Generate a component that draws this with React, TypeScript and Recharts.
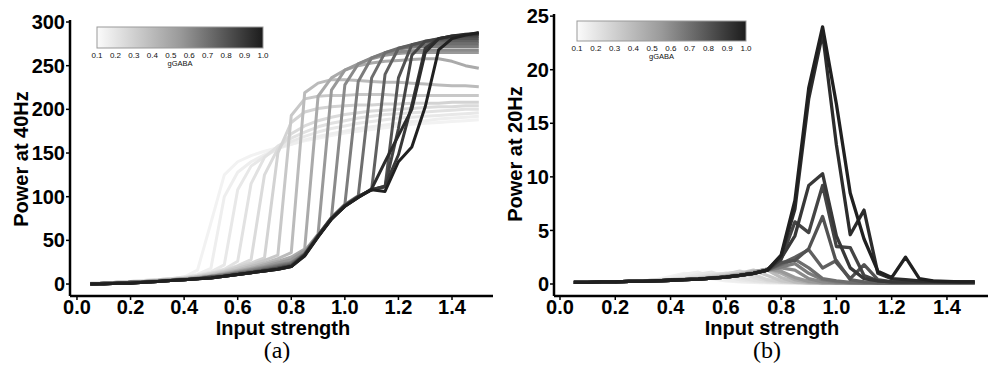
import { Line, LineChart, XAxis, YAxis } from "recharts"

// input strength, shared by both panels
const INPUT = [
  0.05, 0.1, 0.15, 0.2, 0.25, 0.3, 0.35, 0.4, 0.45, 0.5, 0.55, 0.6, 0.65, 0.7, 0.75,
  0.8, 0.85, 0.9, 0.95, 1.0, 1.05, 1.1, 1.15, 1.2, 1.25, 1.3, 1.35, 1.4, 1.45, 1.5,
]

const GABA = [
  "0.10", "0.15", "0.20", "0.25", "0.30", "0.35", "0.40", "0.45", "0.50", "0.55",
  "0.60", "0.65", "0.70", "0.75", "0.80", "0.85", "0.90", "0.95", "1.00",
]

const X_TICKS = [0, 0.2, 0.4, 0.6, 0.8, 1.0, 1.2, 1.4]
const Y_TICKS_40 = [0, 50, 100, 150, 200, 250, 300]
const Y_TICKS_20 = [0, 5, 10, 15, 20, 25]
const BAR_TICKS = ["0.1", "0.2", "0.3", "0.4", "0.5", "0.6", "0.7", "0.8", "0.9", "1.0"]

// (a) power at 40Hz, one array per gGABA
const P40_010 = [1, 1, 2, 3, 4, 5, 6, 8, 16, 70, 125, 140, 147, 152, 156, 160, 164, 167, 170, 173, 175, 177, 179, 181, 183, 184, 185, 186, 187, 188]
const P40_015 = [1, 1, 2, 3, 4, 5, 6, 8, 11, 18, 100, 128, 140, 148, 155, 160, 165, 169, 172, 175, 178, 180, 182, 184, 186, 187, 189, 190, 191, 192]
const P40_020 = [1, 1, 2, 3, 4, 5, 6, 8, 10, 14, 22, 108, 135, 146, 155, 163, 169, 174, 178, 181, 184, 186, 188, 190, 191, 192, 193, 194, 195, 196]
const P40_025 = [1, 1, 2, 3, 4, 5, 6, 7, 10, 13, 17, 26, 115, 145, 158, 167, 174, 180, 184, 187, 190, 192, 194, 195, 196, 197, 198, 199, 200, 200]
const P40_030 = [1, 1, 2, 2, 3, 5, 6, 7, 9, 12, 16, 21, 28, 125, 155, 172, 181, 187, 191, 194, 196, 198, 199, 200, 201, 202, 203, 203, 204, 204]
const P40_035 = [0, 1, 2, 2, 3, 4, 6, 7, 9, 12, 15, 20, 24, 30, 150, 185, 197, 201, 203, 204, 205, 205, 206, 206, 207, 207, 207, 208, 208, 208]
const P40_040 = [0, 1, 2, 2, 3, 4, 5, 6, 8, 11, 14, 18, 22, 27, 33, 193, 212, 215, 216, 216, 217, 217, 217, 216, 216, 216, 216, 216, 216, 216]
const P40_045 = [0, 1, 2, 2, 3, 4, 5, 6, 8, 10, 13, 16, 20, 24, 29, 36, 219, 230, 234, 234, 233, 232, 231, 231, 230, 229, 228, 227, 227, 226]
const P40_050 = [0, 1, 1, 2, 3, 4, 5, 6, 7, 9, 12, 15, 18, 22, 26, 31, 40, 215, 236, 245, 250, 253, 255, 256, 257, 258, 258, 255, 250, 247]
const P40_055 = [0, 1, 1, 2, 3, 4, 5, 6, 7, 9, 11, 14, 17, 20, 24, 28, 38, 57, 222, 245, 252, 258, 262, 264, 265, 265, 265, 265, 265, 265]
const P40_060 = [0, 1, 1, 2, 2, 3, 4, 5, 7, 9, 11, 13, 16, 19, 22, 25, 35, 56, 76, 228, 252, 259, 264, 266, 267, 268, 268, 268, 268, 268]
const P40_065 = [0, 1, 1, 2, 2, 3, 4, 5, 6, 8, 10, 13, 15, 18, 21, 24, 35, 56, 76, 91, 232, 259, 265, 269, 271, 272, 272, 272, 272, 272]
const P40_070 = [0, 1, 1, 2, 2, 3, 4, 5, 6, 8, 10, 12, 14, 17, 20, 23, 34, 56, 76, 91, 101, 236, 265, 270, 273, 274, 275, 275, 275, 275]
const P40_075 = [0, 1, 1, 2, 2, 3, 4, 5, 6, 8, 9, 12, 14, 16, 19, 22, 34, 55, 75, 90, 100, 108, 240, 270, 274, 277, 278, 278, 278, 278]
const P40_080 = [0, 1, 1, 2, 2, 3, 4, 5, 6, 8, 9, 11, 13, 16, 18, 21, 34, 55, 75, 90, 100, 108, 111, 236, 274, 278, 280, 281, 281, 281]
const P40_085 = [0, 0, 1, 1, 2, 3, 4, 5, 6, 7, 9, 11, 13, 15, 18, 21, 33, 55, 75, 90, 100, 108, 112, 178, 262, 278, 281, 283, 284, 284]
const P40_090 = [0, 0, 1, 1, 2, 3, 4, 5, 6, 7, 9, 11, 13, 15, 17, 20, 33, 55, 75, 89, 100, 108, 112, 148, 205, 270, 281, 284, 285, 286]
const P40_095 = [0, 0, 1, 1, 2, 3, 4, 5, 6, 7, 9, 11, 13, 15, 17, 20, 33, 54, 75, 89, 99, 109, 140, 170, 200, 265, 281, 284, 286, 287]
const P40_100 = [0, 0, 1, 1, 2, 3, 4, 5, 6, 7, 9, 11, 13, 15, 17, 20, 32, 54, 74, 89, 99, 108, 106, 140, 157, 203, 268, 281, 285, 288]

// (b) power at 20Hz
const P20_010 = [0.15, 0.15, 0.2, 0.2, 0.25, 0.3, 0.4, 0.7, 1.0, 0.8, 0.5, 0.3, 0.2, 0.15, 0.1, 0.1, 0.1, 0.1, 0.1, 0.1, 0.1, 0.1, 0.1, 0.1, 0.1, 0.1, 0.1, 0.1, 0.1, 0.1]
const P20_015 = [0.15, 0.15, 0.2, 0.2, 0.25, 0.3, 0.35, 0.5, 0.9, 1.1, 0.7, 0.4, 0.25, 0.2, 0.15, 0.1, 0.1, 0.1, 0.1, 0.1, 0.1, 0.1, 0.1, 0.1, 0.1, 0.1, 0.1, 0.1, 0.1, 0.1]
const P20_020 = [0.15, 0.15, 0.2, 0.2, 0.25, 0.3, 0.35, 0.45, 0.6, 0.9, 1.1, 0.7, 0.4, 0.25, 0.2, 0.15, 0.1, 0.1, 0.1, 0.1, 0.1, 0.1, 0.1, 0.1, 0.1, 0.1, 0.1, 0.1, 0.1, 0.1]
const P20_025 = [0.15, 0.15, 0.2, 0.2, 0.25, 0.3, 0.35, 0.4, 0.5, 0.7, 0.9, 1.0, 0.6, 0.35, 0.2, 0.15, 0.1, 0.1, 0.1, 0.1, 0.1, 0.1, 0.1, 0.1, 0.1, 0.1, 0.1, 0.1, 0.1, 0.1]
const P20_030 = [0.15, 0.15, 0.2, 0.2, 0.25, 0.3, 0.35, 0.4, 0.5, 0.6, 0.8, 1.0, 1.1, 0.6, 0.3, 0.2, 0.15, 0.1, 0.1, 0.1, 0.1, 0.1, 0.1, 0.1, 0.1, 0.1, 0.1, 0.1, 0.1, 0.1]
const P20_035 = [0.15, 0.15, 0.2, 0.2, 0.25, 0.3, 0.35, 0.4, 0.45, 0.55, 0.7, 0.9, 1.2, 0.9, 0.4, 0.2, 0.15, 0.1, 0.1, 0.1, 0.1, 0.1, 0.1, 0.1, 0.1, 0.1, 0.1, 0.1, 0.1, 0.1]
const P20_040 = [0.15, 0.15, 0.2, 0.2, 0.25, 0.3, 0.35, 0.4, 0.45, 0.5, 0.65, 0.8, 1.0, 1.3, 0.8, 0.3, 0.15, 0.1, 0.1, 0.1, 0.1, 0.1, 0.1, 0.1, 0.1, 0.1, 0.1, 0.1, 0.1, 0.1]
const P20_045 = [0.15, 0.15, 0.2, 0.2, 0.25, 0.3, 0.3, 0.35, 0.45, 0.5, 0.6, 0.75, 0.95, 1.2, 1.3, 0.6, 0.2, 0.1, 0.1, 0.1, 0.1, 0.1, 0.1, 0.1, 0.1, 0.1, 0.1, 0.1, 0.1, 0.1]
const P20_050 = [0.15, 0.15, 0.2, 0.2, 0.25, 0.3, 0.3, 0.35, 0.4, 0.5, 0.6, 0.7, 0.9, 1.1, 1.4, 1.0, 0.4, 0.15, 0.1, 0.1, 0.1, 0.1, 0.1, 0.1, 0.1, 0.1, 0.1, 0.1, 0.1, 0.1]
const P20_055 = [0.15, 0.15, 0.2, 0.2, 0.25, 0.3, 0.3, 0.35, 0.4, 0.45, 0.55, 0.7, 0.85, 1.1, 1.4, 1.2, 0.6, 0.25, 0.1, 0.1, 0.1, 0.1, 0.1, 0.1, 0.1, 0.1, 0.1, 0.1, 0.1, 0.1]
const P20_060 = [0.15, 0.15, 0.2, 0.2, 0.25, 0.3, 0.3, 0.35, 0.4, 0.45, 0.55, 0.65, 0.8, 1.0, 1.3, 1.5, 1.3, 0.5, 0.2, 0.1, 0.1, 0.1, 0.1, 0.1, 0.1, 0.1, 0.1, 0.1, 0.1, 0.1]
const P20_065 = [0.15, 0.15, 0.2, 0.2, 0.25, 0.25, 0.3, 0.35, 0.4, 0.45, 0.55, 0.65, 0.8, 1.0, 1.3, 1.6, 1.9, 1.0, 0.4, 0.2, 0.1, 0.1, 0.1, 0.1, 0.1, 0.1, 0.1, 0.1, 0.1, 0.1]
const P20_070 = [0.15, 0.15, 0.2, 0.2, 0.25, 0.25, 0.3, 0.35, 0.4, 0.45, 0.55, 0.65, 0.8, 1.0, 1.3, 1.8, 2.3, 1.5, 0.5, 0.3, 0.15, 0.1, 0.1, 0.1, 0.1, 0.1, 0.1, 0.1, 0.1, 0.1]
const P20_075 = [0.15, 0.15, 0.2, 0.2, 0.25, 0.25, 0.3, 0.35, 0.4, 0.45, 0.55, 0.65, 0.8, 1.0, 1.3, 1.9, 2.5, 3.2, 1.5, 2.2, 0.4, 0.2, 0.1, 0.1, 0.1, 0.1, 0.1, 0.1, 0.1, 0.1]
const P20_080 = [0.15, 0.15, 0.2, 0.2, 0.25, 0.25, 0.3, 0.35, 0.4, 0.45, 0.55, 0.65, 0.8, 1.0, 1.3, 2.0, 2.2, 3.3, 6.3, 2.0, 0.5, 1.8, 0.4, 0.2, 0.15, 0.15, 0.15, 0.15, 0.15, 0.15]
const P20_085 = [0.15, 0.15, 0.2, 0.2, 0.25, 0.25, 0.3, 0.35, 0.4, 0.45, 0.55, 0.65, 0.8, 1.0, 1.3, 2.3, 5.8, 4.8, 9.2, 3.5, 3.4, 0.8, 0.3, 0.2, 0.15, 0.15, 0.15, 0.15, 0.15, 0.15]
const P20_090 = [0.15, 0.15, 0.2, 0.2, 0.25, 0.25, 0.3, 0.35, 0.4, 0.45, 0.55, 0.65, 0.8, 1.0, 1.3, 2.4, 4.5, 9.2, 10.3, 4.5, 1.5, 0.5, 0.3, 0.2, 0.2, 0.2, 0.2, 0.2, 0.2, 0.2]
const P20_095 = [0.15, 0.15, 0.2, 0.2, 0.25, 0.25, 0.3, 0.35, 0.4, 0.45, 0.55, 0.65, 0.8, 1.0, 1.3, 2.6, 7.0, 17.3, 23.4, 13.0, 4.6, 6.9, 1.0, 0.5, 0.4, 0.3, 0.25, 0.2, 0.2, 0.2]
const P20_100 = [0.15, 0.15, 0.2, 0.2, 0.25, 0.25, 0.3, 0.35, 0.4, 0.45, 0.55, 0.65, 0.8, 1.0, 1.3, 2.7, 7.8, 18.3, 24.0, 16.8, 8.5, 4.2, 1.2, 0.6, 2.5, 0.5, 0.3, 0.25, 0.2, 0.2]

const POWER_40 = [
  P40_010, P40_015, P40_020, P40_025, P40_030, P40_035, P40_040, P40_045, P40_050, P40_055,
  P40_060, P40_065, P40_070, P40_075, P40_080, P40_085, P40_090, P40_095, P40_100,
]
const POWER_20 = [
  P20_010, P20_015, P20_020, P20_025, P20_030, P20_035, P20_040, P20_045, P20_050, P20_055,
  P20_060, P20_065, P20_070, P20_075, P20_080, P20_085, P20_090, P20_095, P20_100,
]

// grey per gGABA, light -> dark
const GREYS = [
  "#f2f2f2", "#eeeeee", "#e8e8e8", "#e2e2e2", "#dbdbdb", "#d3d3d3", "#c8c8c8", "#bbbbbb", "#aaaaaa", "#999999",
  "#8a8a8a", "#7c7c7c", "#6e6e6e", "#606060", "#525252", "#444444", "#383838", "#2c2c2c", "#202020",
]

const FONT = "'Liberation Sans', Arial, sans-serif"
const SERIF = "'Liberation Serif', 'Times New Roman', serif"
const TICK = { fontSize: 20, fontWeight: 700, fill: "#000", fontFamily: FONT }
const AXIS_LINE = { stroke: "#000", strokeWidth: 2.5 }
const TICK_LINE = { stroke: "#000", strokeWidth: 1.5 }

function buildRows(series: number[][]) {
  return INPUT.map((x, k) => {
    const row: Record<string, number> = { x }
    series.forEach((s, i) => {
      row["g" + GABA[i]] = s[k]
    })
    return row
  })
}

// grey colour bar with its 0.1 … 1.0 scale
function Colorbar({ x, y, w, h, id }: { x: number; y: number; w: number; h: number; id: string }) {
  return (
    <g>
      <defs>
        <linearGradient id={id} x1="0" x2="1" y1="0" y2="0">
          <stop offset="0%" stopColor="#fbfbfb" />
          <stop offset="50%" stopColor="#9a9a9a" />
          <stop offset="100%" stopColor="#1c1c1c" />
        </linearGradient>
      </defs>
      <rect x={x} y={y} width={w} height={h} fill={`url(#${id})`} stroke="#999" strokeWidth={1} />
      {BAR_TICKS.map((t, i) => (
        <text
          key={t}
          x={x + (i * w) / (BAR_TICKS.length - 1)}
          y={y + h + 10}
          textAnchor="middle"
          fontSize={8}
          fontFamily={FONT}
          fill="#111"
        >
          {t}
        </text>
      ))}
      <text x={x + w / 2} y={y + h + 18} textAnchor="middle" fontSize={7.5} fontFamily={FONT} fill="#111">
        gGABA
      </text>
    </g>
  )
}

function Panel({
  rows,
  width,
  margin,
  yWidth,
  xDomain,
  yDomain,
  yTicks,
  strokeWidth,
}: {
  rows: Record<string, number>[]
  width: number
  margin: { top: number; right: number; bottom: number; left: number }
  yWidth: number
  xDomain: [number, number]
  yDomain: [number, number]
  yTicks: number[]
  strokeWidth: number
}) {
  return (
    <LineChart width={width} height={372} data={rows} margin={margin}>
      <XAxis
        dataKey="x"
        type="number"
        domain={xDomain}
        allowDataOverflow
        ticks={X_TICKS}
        interval={0}
        tickFormatter={(v: number) => v.toFixed(1)}
        tick={TICK}
        axisLine={AXIS_LINE}
        tickLine={TICK_LINE}
        tickSize={4}
        tickMargin={0}
        height={30}
      />
      <YAxis
        type="number"
        domain={yDomain}
        allowDataOverflow
        ticks={yTicks}
        interval={0}
        tick={TICK}
        axisLine={AXIS_LINE}
        tickLine={TICK_LINE}
        tickSize={4}
        tickMargin={1}
        width={yWidth}
      />
      {GABA.map((g, i) => (
        <Line
          key={g}
          type="linear"
          dataKey={"g" + g}
          stroke={GREYS[i]}
          strokeWidth={strokeWidth}
          strokeLinejoin="round"
          dot={false}
          activeDot={false}
          isAnimationActive={false}
        />
      ))}
    </LineChart>
  )
}

export default function App() {
  const rows40 = buildRows(POWER_40)
  const rows20 = buildRows(POWER_20)

  return (
    <div style={{ position: "absolute", left: 0, top: 0, width: 990, height: 372, background: "#fff" }}>
      <div style={{ position: "absolute", left: 0, top: 0 }}>
        <Panel
          rows={rows40}
          width={500}
          margin={{ top: 20, right: 7, bottom: 46, left: 10 }}
          yWidth={60}
          xDomain={[-0.026, 1.553]}
          yDomain={[-13.7, 302.3]}
          yTicks={Y_TICKS_40}
          strokeWidth={3}
        />
      </div>
      <div style={{ position: "absolute", left: 500, top: 0 }}>
        <Panel
          rows={rows20}
          width={490}
          margin={{ top: 14, right: 2, bottom: 46, left: 4 }}
          yWidth={50}
          xDomain={[-0.0217, 1.5485]}
          yDomain={[-1.12, 25.2]}
          yTicks={Y_TICKS_20}
          strokeWidth={3.3}
        />
      </div>
      <svg width={990} height={372} style={{ position: "absolute", left: 0, top: 0, pointerEvents: "none" }}>
        <Colorbar id="barA" x={97} y={27} w={166} h={21} />
        <Colorbar id="barB" x={577} y={21} w={169} h={20} />
        <text
          transform="translate(28,159) rotate(-90)"
          textAnchor="middle"
          fontSize={20}
          fontWeight={700}
          fontFamily={FONT}
          fill="#000"
        >
          Power at 40Hz
        </text>
        <text
          transform="translate(522,154) rotate(-90)"
          textAnchor="middle"
          fontSize={20}
          fontWeight={700}
          fontFamily={FONT}
          fill="#000"
        >
          Power at 20Hz
        </text>
        <text x={283} y={335} textAnchor="middle" fontSize={20} fontWeight={700} fontFamily={FONT} fill="#000">
          Input strength
        </text>
        <text x={772} y={335} textAnchor="middle" fontSize={20} fontWeight={700} fontFamily={FONT} fill="#000">
          Input strength
        </text>
        <text x={277} y={358} textAnchor="middle" fontSize={24} fontFamily={SERIF} fill="#000">
          (a)
        </text>
        <text x={767} y={358} textAnchor="middle" fontSize={24} fontFamily={SERIF} fill="#000">
          (b)
        </text>
      </svg>
    </div>
  )
}
